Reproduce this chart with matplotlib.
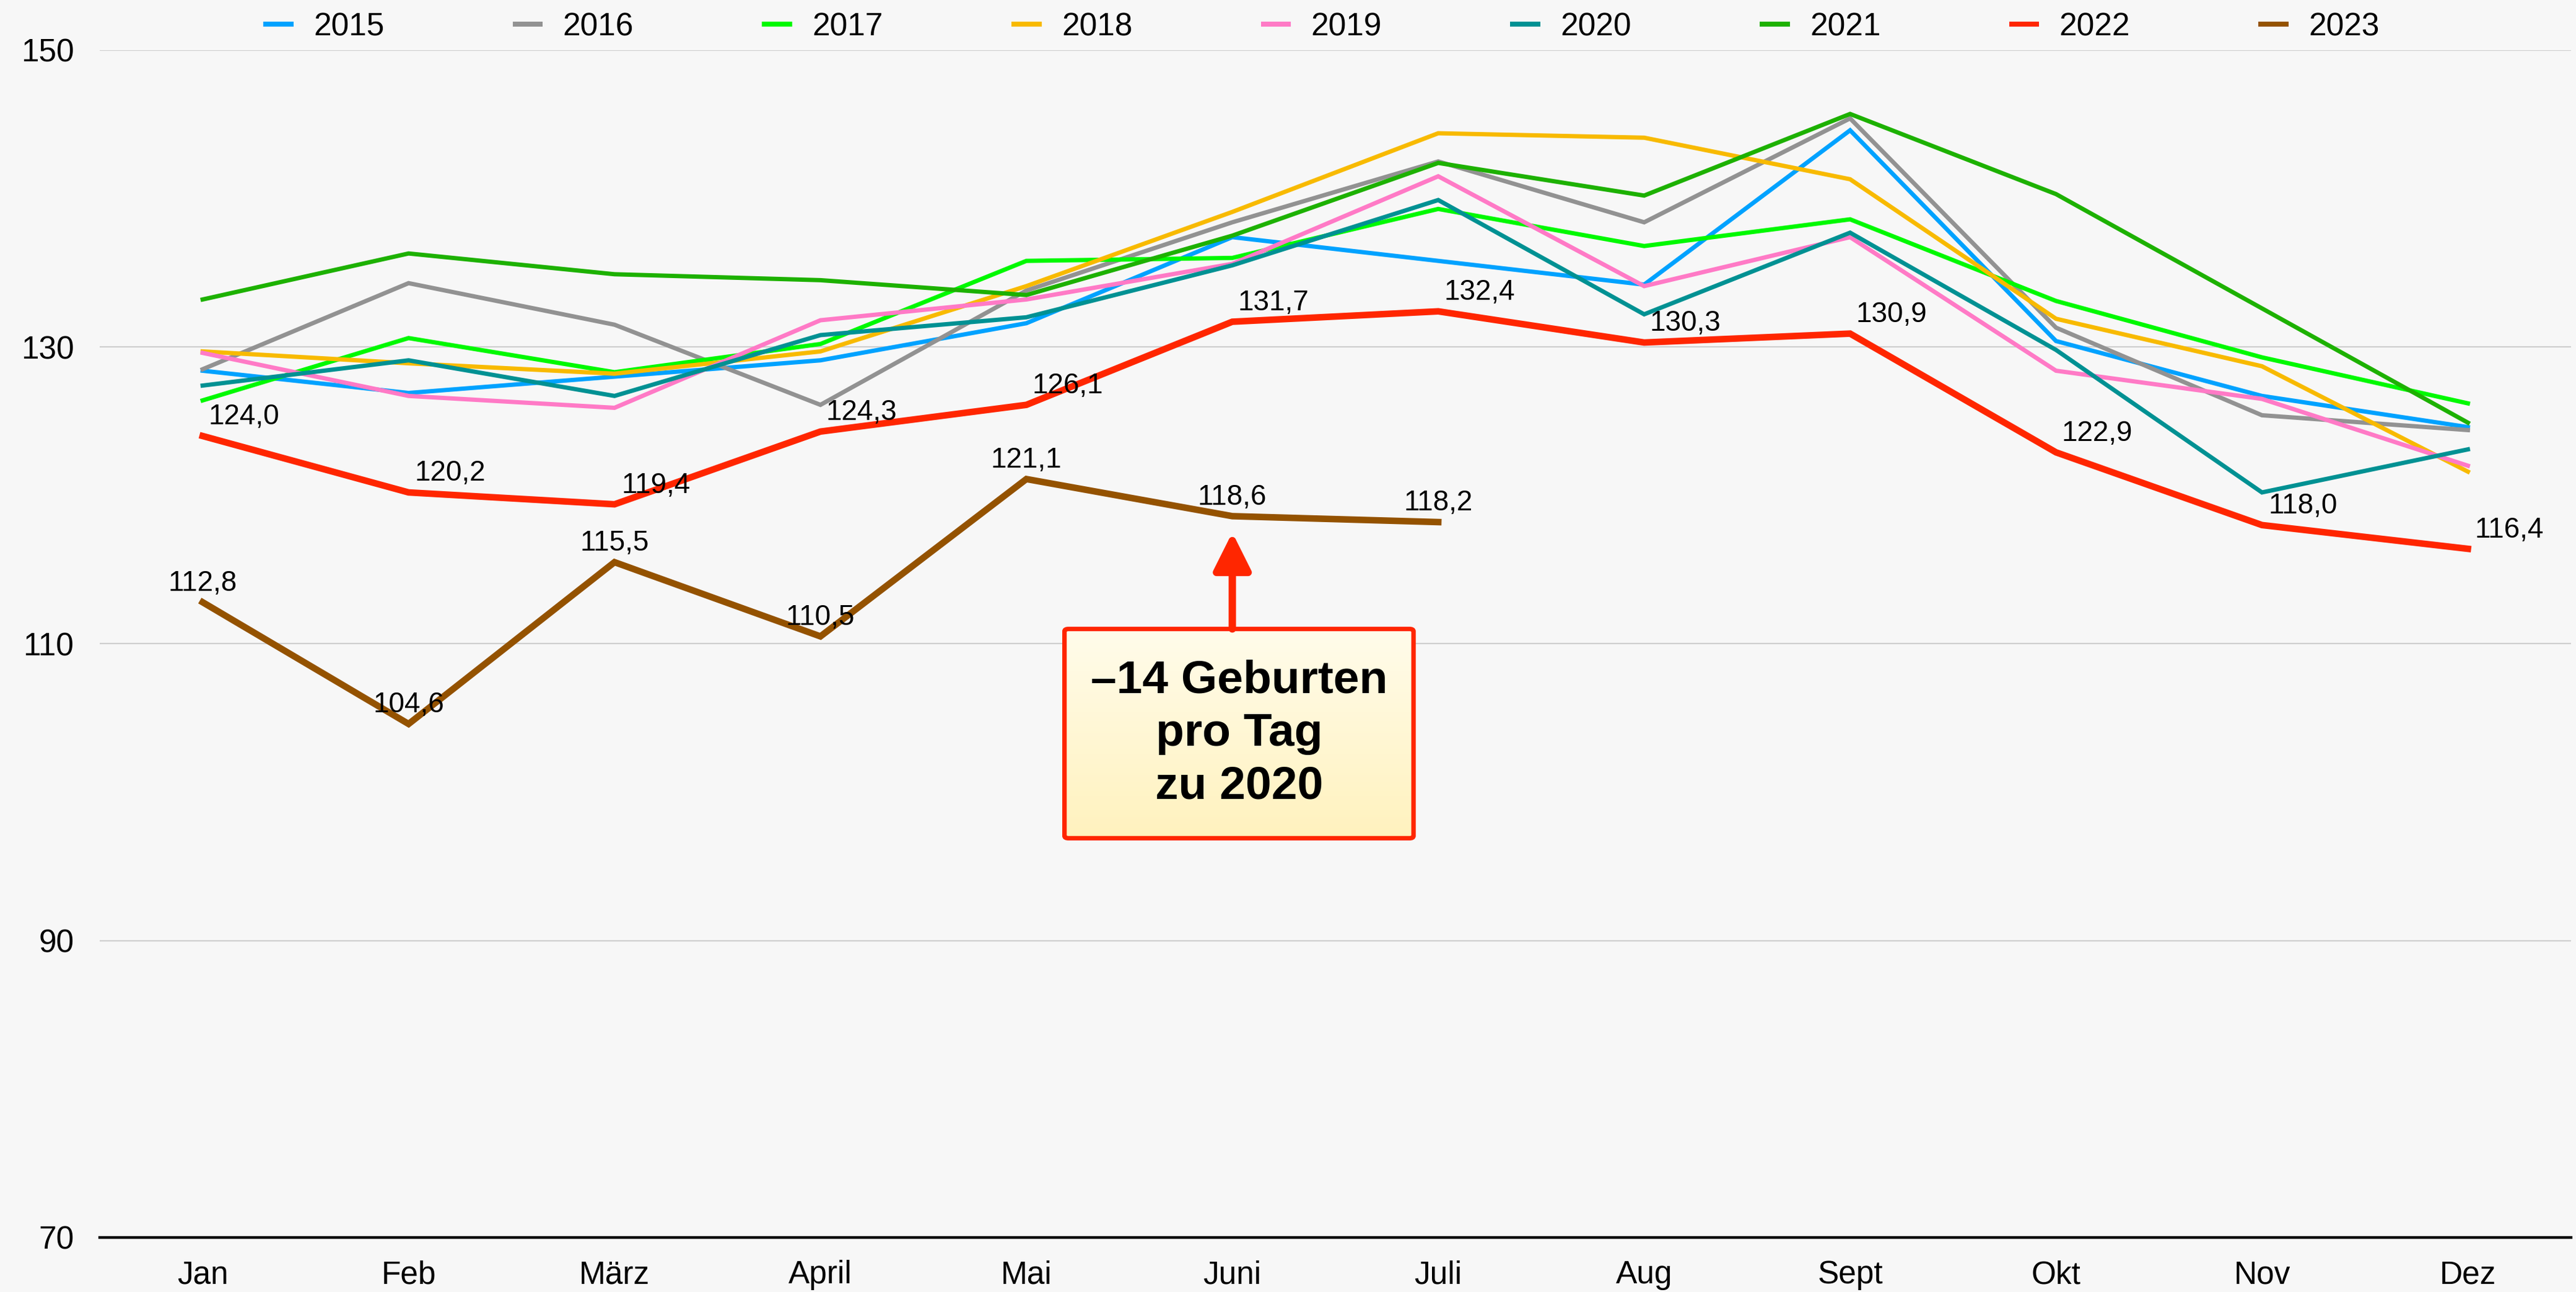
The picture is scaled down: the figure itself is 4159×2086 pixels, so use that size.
import numpy as np
import matplotlib.pyplot as plt
from matplotlib.lines import Line2D
from matplotlib.patches import FancyBboxPatch

plt.rcParams["font.family"] = ["Liberation Sans", "DejaVu Sans"]

# -----------------------------
# Data
# -----------------------------
months = ["Jan", "Feb", "März", "April", "Mai", "Juni", "Juli",
          "Aug", "Sept", "Okt", "Nov", "Dez"]

y2015 = [128.4, 126.9, 128.0, 129.1, 131.6, 137.4, 135.8, 134.2, 144.6, 130.4, 126.7, 124.6]
y2016 = [128.5, 134.3, 131.5, 126.1, 133.8, 138.4, 142.5, 138.4, 145.4, 131.3, 125.4, 124.4]
y2017 = [126.4, 130.6, 128.3, 130.2, 135.8, 136.0, 139.3, 136.8, 138.6, 133.1, 129.3, 126.2]
y2018 = [129.7, 128.9, 128.2, 129.7, 134.1, 139.1, 144.4, 144.1, 141.3, 131.9, 128.7, 121.6]
y2019 = [129.6, 126.7, 125.9, 131.8, 133.2, 135.6, 141.5, 134.1, 137.4, 128.4, 126.5, 122.0]
y2020 = [127.4, 129.1, 126.7, 130.8, 132.0, 135.5, 139.9, 132.2, 137.7, 129.8, 120.2, 123.1]
y2021 = [133.2, 136.3, 134.9, 134.5, 133.5, 137.5, 142.4, 140.2, 145.7, 140.3, 132.6, 124.9]
y2022 = [124.0, 120.2, 119.4, 124.3, 126.1, 131.7, 132.4, 130.3, 130.9, 122.9, 118.0, 116.4]
y2023 = [112.8, 104.6, 115.5, 110.5, 121.1, 118.6, 118.2]

years = ["2015", "2016", "2017", "2018", "2019", "2020", "2021", "2022", "2023"]
series = [y2015, y2016, y2017, y2018, y2019, y2020, y2021, y2022, y2023]
colors = ["#00A2FF", "#929292", "#00F900", "#F8BA00", "#FF7AC6",
          "#009193", "#1DB100", "#FF2600", "#945200"]

y_ticks = [70, 90, 110, 130, 150]
note = "\u201314 Geburten\npro Tag\nzu 2020"

# -----------------------------
# Plot
# -----------------------------
bg = "#F7F7F7"
fig = plt.figure(figsize=(20.795, 10.43), dpi=200, facecolor=bg)
ax = fig.add_axes([0.0387, 0.0422, 0.9593, 0.919])
ax.set_facecolor(bg)

x = np.arange(len(months))
for name, vals, col in zip(years, series, colors):
    lw = 3.8 if name in ("2022", "2023") else 2.5
    ax.plot(x[:len(vals)], vals, color=col, lw=lw, zorder=3,
            solid_joinstyle="miter")

# data labels
for i, v in enumerate(y2022):
    ax.annotate(f"{v:.1f}".replace(".", ","), (x[i], v), xytext=(24, 11),
                textcoords="offset points", ha="center", va="center",
                fontsize=16.5, zorder=5)
for i, v in enumerate(y2023):
    ax.annotate(f"{v:.1f}".replace(".", ","), (x[i], v), xytext=(0, 11),
                textcoords="offset points", ha="center", va="center",
                fontsize=16.5, zorder=5)

# annotation box with gradient
bx0, bx1, by0, by1 = 5 - 0.815, 5 + 0.88, 96.9, 111.0
grad = np.linspace(0, 1, 256).reshape(-1, 1)
top = np.array([255, 252, 235]) / 255
bot = np.array([255, 242, 190]) / 255
img = top + (bot - top) * grad[:, :, None]
ax.imshow(img, extent=[bx0, bx1, by0, by1], aspect="auto", zorder=6,
          origin="upper")
ax.add_patch(FancyBboxPatch((bx0, by0), bx1 - bx0, by1 - by0,
                            boxstyle="round,pad=0,rounding_size=0.02",
                            fc="none", ec="#FF2600", lw=2.6, zorder=7,
                            mutation_aspect=8))
ax.text((bx0 + bx1) / 2, (by0 + by1) / 2, note, ha="center", va="center",
        fontsize=27, fontweight="bold", linespacing=1.3, zorder=8)
ax.annotate("", xy=(5, 117.5), xytext=(5, by1),
            arrowprops=dict(arrowstyle="-|>,head_length=0.92,head_width=0.46",
                            color="#FF2600", lw=4.3, shrinkA=0, shrinkB=0,
                            mutation_scale=20),
            zorder=7)

ax.set_xlim(-0.5, 11.5)
ax.set_ylim(70, 150)
ax.set_xticks(x)
ax.set_xticklabels(months, fontsize=18.5)
ax.set_yticks(y_ticks)
ax.set_yticklabels([str(t) for t in y_ticks], fontsize=18.5)
ax.tick_params(length=0, pad=13)
ax.tick_params(axis="y", pad=15)
ax.grid(axis="y", color="#CFCFCF", lw=0.8)
ax.set_axisbelow(True)
for s in ["top", "right", "left"]:
    ax.spines[s].set_visible(False)
ax.spines["bottom"].set_color("black")
ax.spines["bottom"].set_linewidth(1.6)
ax.spines["bottom"].set_zorder(4)

handles = [Line2D([0], [0], color=c, lw=2.9, solid_capstyle="butt") for c in colors]
fig.legend(handles, years, loc="center", bbox_to_anchor=(0.513, 0.979),
           ncol=9, frameon=False, fontsize=18.5, handlelength=0.95,
           handletextpad=0.63, columnspacing=4.03)

plt.savefig("out.png", dpi=200, facecolor=bg)
